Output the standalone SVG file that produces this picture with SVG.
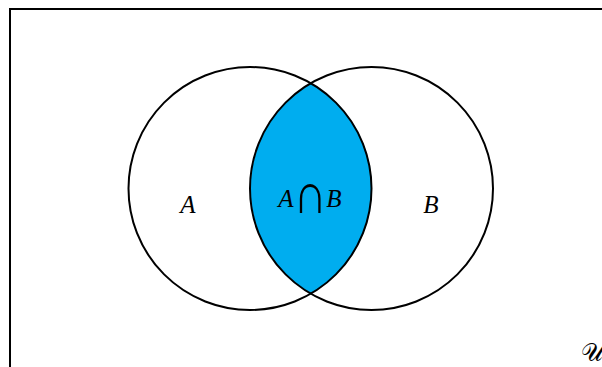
<svg xmlns="http://www.w3.org/2000/svg" width="602" height="367" viewBox="0 0 602 367">
<style>
.c{fill:none;stroke:#000;stroke-width:2}
.t{font-family:"Liberation Serif","DejaVu Serif",serif;font-style:italic;font-size:25px;fill:#000}
</style>
<rect x="10" y="9" width="620" height="400" fill="#fff" stroke="#000" stroke-width="2"/>
<g id="intersection">
<path d="M311.2,83.3 A121.5,121.5 0 0 1 311.2,293.7 A121.5,121.5 0 0 1 311.2,83.3 Z" fill="#00ADEF"/>
</g>
<g id="setA">
<circle class="c" cx="250" cy="188.5" r="121.5"/>
<text class="t" x="188" y="213" text-anchor="middle">A</text>
</g>
<g id="setB">
<circle class="c" cx="371.5" cy="188.5" r="121.5"/>
<text class="t" x="431" y="213" text-anchor="middle">B</text>
</g>
<g id="label-intersection">
<text class="t" x="286" y="207" text-anchor="middle">A</text>
<text transform="translate(310,213) scale(1,1.25)" text-anchor="middle" font-family="Liberation Serif, serif" font-size="46">∩</text>
<text class="t" x="334" y="207" text-anchor="middle">B</text>
</g>
<text x="592" y="361" text-anchor="middle" font-family="DejaVu Serif, serif" font-size="25">𝒰</text>
</svg>
